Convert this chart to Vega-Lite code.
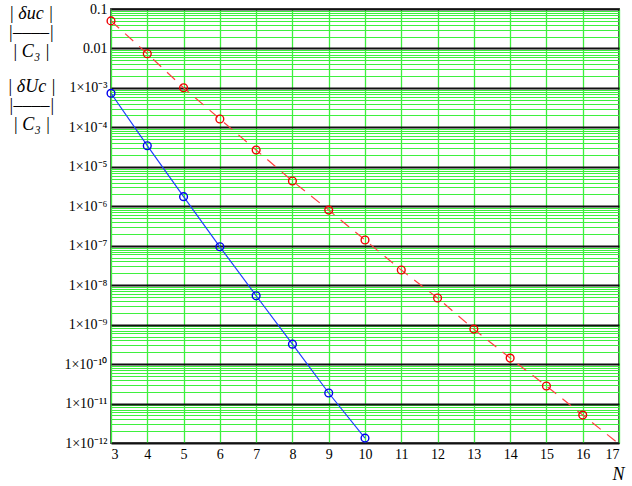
{
  "$schema": "https://vega.github.io/schema/vega-lite/v6.json",
  "width": 508,
  "height": 434,
  "autosize": {"type": "none"},
  "padding": {"left": 111, "top": 9, "right": 13, "bottom": 43},
  "background": "white",
  "config": {"view": {"stroke": "#555555", "strokeWidth": 2}, "font": "Liberation Serif"},
  "title": {
    "text": ["| δuc |", "|‒‒‒‒|", "|  C₃  |"],
    "anchor": "start", "frame": "group", "orient": "top",
    "align": "center", "baseline": "top", "offset": 0,
    "dx": -80, "dy": 59,
    "font": "Liberation Serif", "fontStyle": "italic", "fontWeight": "normal",
    "fontSize": 18, "lineHeight": 19, "color": "black"
  },
  "data": {"values": [
    {"N": 3, "s": "u", "v": 0.05},
    {"N": 4, "s": "u", "v": 0.00736},
    {"N": 5, "s": "u", "v": 0.00101},
    {"N": 6, "s": "u", "v": 0.000163},
    {"N": 7, "s": "u", "v": 0.0000267},
    {"N": 8, "s": "u", "v": 0.00000437},
    {"N": 9, "s": "u", "v": 8.0e-7},
    {"N": 10, "s": "u", "v": 1.4e-7},
    {"N": 11, "s": "u", "v": 2.42e-8},
    {"N": 12, "s": "u", "v": 4.72e-9},
    {"N": 13, "s": "u", "v": 7.7e-10},
    {"N": 14, "s": "u", "v": 1.42e-10},
    {"N": 15, "s": "u", "v": 2.78e-11},
    {"N": 16, "s": "u", "v": 5.1e-12},
    {"N": 17, "s": "u", "v": 9.5e-13},
    {"N": 3, "s": "U", "v": 0.00073},
    {"N": 4, "s": "U", "v": 0.0000343},
    {"N": 5, "s": "U", "v": 0.00000175},
    {"N": 6, "s": "U", "v": 9.4e-8},
    {"N": 7, "s": "U", "v": 5.4e-9},
    {"N": 8, "s": "U", "v": 3.2e-10},
    {"N": 9, "s": "U", "v": 1.85e-11},
    {"N": 10, "s": "U", "v": 1.33e-12}
  ]},
  "encoding": {
    "x": {
      "field": "N", "type": "quantitative",
      "scale": {"domain": [3, 17], "nice": false, "zero": false},
      "axis": {
        "values": [3,4,5,6,7,8,9,10,11,12,13,14,15,16,17],
        "grid": true, "gridColor": "#3ef03e", "gridWidth": 1.3,
        "domain": false, "ticks": false,
        "labelFont": "Liberation Serif", "labelFontSize": 14, "labelColor": "black", "labelPadding": 4,
        "title": "N", "titleFont": "Liberation Serif", "titleFontStyle": "italic", "titleFontWeight": "normal",
        "titleFontSize": 18, "titleColor": "black",
        "titleX": 507, "titleY": 36, "titleAlign": "center", "titleBaseline": "alphabetic"
      }
    },
    "y": {
      "field": "v", "type": "quantitative",
      "scale": {"type": "log", "domain": [1e-12, 0.1], "nice": false},
      "axis": {
        "tickCount": 20,
        "grid": true,
        "gridColor": {"condition": {"test": "abs(log(datum.value)/LN10 - round(log(datum.value)/LN10)) < 0.01", "value": "#111111"}, "value": "#3ef03e"},
        "gridWidth": {"condition": {"test": "abs(log(datum.value)/LN10 - round(log(datum.value)/LN10)) < 0.01", "value": 2}, "value": 1.1},
        "domain": false, "ticks": false, "labelOverlap": false,
        "labelExpr": "abs(log(datum.value)/LN10 - round(log(datum.value)/LN10)) < 0.01 ? (datum.value > 0.05 ? '0.1' : (datum.value > 0.005 ? '0.01' : '1×10⁻' + (round(-log(datum.value)/LN10) >= 10 ? '¹' + slice('⁰¹²³⁴⁵⁶⁷⁸⁹', round(-log(datum.value)/LN10)-10, round(-log(datum.value)/LN10)-9) : slice('⁰¹²³⁴⁵⁶⁷⁸⁹', round(-log(datum.value)/LN10), round(-log(datum.value)/LN10)+1)))) : ''",
        "labelFont": "Liberation Serif", "labelFontSize": 14, "labelColor": "black", "labelPadding": 4,
        "title": ["| δUc |", "|‒‒‒‒|", "|  C₃  |"],
        "titleFont": "Liberation Serif", "titleFontStyle": "italic", "titleFontWeight": "normal",
        "titleFontSize": 18, "titleLineHeight": 19, "titleColor": "black",
        "titleAngle": 0, "titleAlign": "center", "titleBaseline": "top",
        "titleX": -80, "titleY": 68
      }
    }
  },
  "layer": [
    {
      "transform": [{"filter": "datum.s == 'u'"}],
      "mark": {"type": "line", "color": "#ff4040", "strokeWidth": 1.2, "strokeDash": [11, 8], "clip": true}
    },
    {
      "transform": [{"filter": "datum.s == 'U'"}],
      "mark": {"type": "line", "color": "#2040ff", "strokeWidth": 1.2, "clip": true}
    },
    {
      "transform": [{"filter": "datum.s == 'u' && datum.N <= 16"}],
      "mark": {"type": "point", "shape": "circle", "filled": false, "color": "#ee0000", "size": 60, "strokeWidth": 1.4, "opacity": 1}
    },
    {
      "transform": [{"filter": "datum.s == 'U'"}],
      "mark": {"type": "point", "shape": "circle", "filled": false, "color": "#0000ee", "size": 60, "strokeWidth": 1.4, "opacity": 1}
    }
  ]
}
